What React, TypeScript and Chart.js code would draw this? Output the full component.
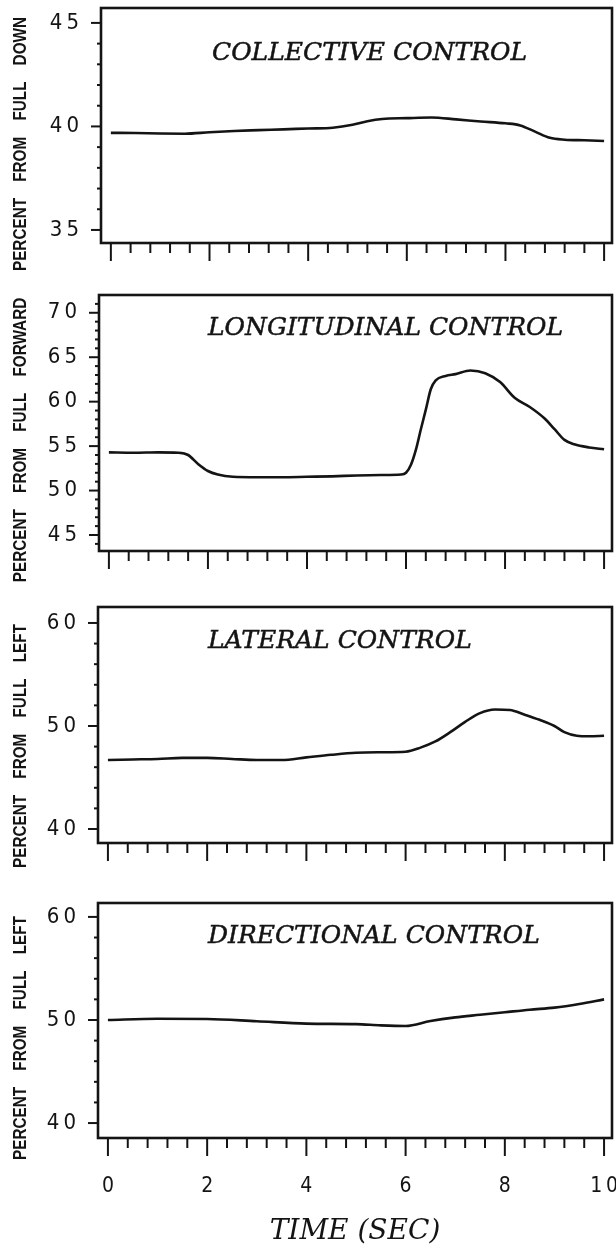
import React, { useEffect, useRef } from "react";
import { Chart, registerables } from "chart.js";

Chart.register(...registerables);

// ---------- data (percent of control travel vs. time) ----------
const timeTickValues = [0, 2, 4, 6, 8, 10];
const timeMinorStep = 0.4;

const collectiveTime = [0, 0.5, 1, 1.5, 2, 2.5, 3, 3.5, 4, 4.5, 4.9, 5.2, 5.5, 6, 6.5, 7, 7.5, 8, 8.3, 8.6, 8.9, 9.2, 9.6, 10];
const collectivePercent = [39.69, 39.68, 39.66, 39.65, 39.72, 39.78, 39.82, 39.86, 39.9, 39.94, 40.08, 40.25, 40.36, 40.4, 40.43, 40.34, 40.24, 40.15, 40.05, 39.75, 39.45, 39.36, 39.33, 39.3];
const collectiveTicks = [35, 40, 45];

const longitudinalTime = [0, 0.5, 1, 1.4, 1.6, 1.8, 2.0, 2.2, 2.5, 3, 3.5, 4, 4.5, 5, 5.5, 5.9, 6.0, 6.1, 6.2, 6.3, 6.4, 6.5, 6.6, 6.8, 7.0, 7.3, 7.6, 7.9, 8.2, 8.5, 8.8, 9.0, 9.2, 9.4, 9.7, 10];
const longitudinalPercent = [54.3, 54.25, 54.3, 54.25, 54.0, 53.0, 52.2, 51.8, 51.55, 51.5, 51.5, 51.55, 51.6, 51.7, 51.75, 51.8, 52.0, 52.9, 54.6, 56.9, 59.1, 61.4, 62.4, 62.9, 63.1, 63.5, 63.2, 62.2, 60.4, 59.4, 58.1, 56.9, 55.7, 55.2, 54.85, 54.65];
const longitudinalTicks = [45, 50, 55, 60, 65, 70];

const lateralTime = [0, 0.5, 1, 1.5, 2, 2.5, 3, 3.5, 4, 4.5, 5, 5.5, 6, 6.3, 6.6, 6.9, 7.2, 7.5, 7.8, 8.1, 8.4, 8.7, 9.0, 9.2, 9.45, 9.7, 10];
const lateralPercent = [46.7, 46.75, 46.8, 46.9, 46.9, 46.8, 46.7, 46.7, 46.95, 47.2, 47.4, 47.45, 47.5, 47.9, 48.5, 49.4, 50.4, 51.25, 51.6, 51.55, 51.1, 50.6, 50.0, 49.4, 49.05, 49.0, 49.05];
const lateralTicks = [40, 50, 60];

const directionalTime = [0, 1, 2, 3, 4, 5, 5.5, 6.0, 6.5, 7, 7.5, 8, 8.5, 9, 9.5, 10];
const directionalPercent = [50.0, 50.12, 50.1, 49.88, 49.65, 49.6, 49.48, 49.42, 49.9, 50.25, 50.5, 50.75, 51.0, 51.2, 51.55, 52.0];
const directionalTicks = [40, 50, 60];

// ---------- styling / layout ----------
const INK = "#141414";
const PAGE_W = 616;
const PAGE_H = 1256;
const TICK_FONT = "'Liberation Sans Narrow', 'DejaVu Sans Condensed', 'Liberation Sans', sans-serif";
const CAPTION_FONT = "'Liberation Sans', Arial, sans-serif";
const SERIF = "'DejaVu Serif', 'Liberation Serif', serif";

type Box = { left: number; right: number; top: number; bottom: number };

type PanelSpec = {
  title: string;
  yWords: string[];
  time: number[];
  values: number[];
  yMin: number;
  yMax: number;
  yTicks: number[];
  yMinorStep: number;
  canvasTop: number;
  canvasHeight: number;
  box: Box;
  titleX: number;
  titleY: number;
  yTitleY: number;
  showTimeLabels: boolean;
};

const panels: PanelSpec[] = [
  {
    title: "COLLECTIVE CONTROL",
    yWords: ["PERCENT", "FROM", "FULL", "DOWN"],
    time: collectiveTime,
    values: collectivePercent,
    yMin: 34.37,
    yMax: 45.72,
    yTicks: collectiveTicks,
    yMinorStep: 1,
    canvasTop: 0,
    canvasHeight: 290,
    box: { left: 101, right: 612, top: 8, bottom: 243 },
    titleX: 212,
    titleY: 60,
    yTitleY: 144,
    showTimeLabels: false,
  },
  {
    title: "LONGITUDINAL CONTROL",
    yWords: ["PERCENT", "FROM", "FULL", "FORWARD"],
    time: longitudinalTime,
    values: longitudinalPercent,
    yMin: 43.2,
    yMax: 72.0,
    yTicks: longitudinalTicks,
    yMinorStep: 1,
    canvasTop: 285,
    canvasHeight: 315,
    box: { left: 99, right: 612, top: 295, bottom: 551 },
    titleX: 208,
    titleY: 335,
    yTitleY: 440,
    showTimeLabels: false,
  },
  {
    title: "LATERAL CONTROL",
    yWords: ["PERCENT", "FROM", "FULL", "LEFT"],
    time: lateralTime,
    values: lateralPercent,
    yMin: 38.64,
    yMax: 61.55,
    yTicks: lateralTicks,
    yMinorStep: 2,
    canvasTop: 597,
    canvasHeight: 293,
    box: { left: 98, right: 612, top: 607, bottom: 843 },
    titleX: 208,
    titleY: 648,
    yTitleY: 746,
    showTimeLabels: false,
  },
  {
    title: "DIRECTIONAL CONTROL",
    yWords: ["PERCENT", "FROM", "FULL", "LEFT"],
    time: directionalTime,
    values: directionalPercent,
    yMin: 38.55,
    yMax: 61.35,
    yTicks: directionalTicks,
    yMinorStep: 2,
    canvasTop: 890,
    canvasHeight: PAGE_H - 890,
    box: { left: 98, right: 612, top: 903, bottom: 1138 },
    titleX: 208,
    titleY: 943,
    yTitleY: 1038,
    showTimeLabels: true,
  },
];

// "45" -> "4 5": digits are typeset with a thin gap between them
const spacedDigits = (v: number | string) => String(v).split("").join("\u2009");

// Frame, tick marks, in-panel title and rotated axis caption
const panelFrame = {
  id: "panelFrame",
  afterDraw(chart: any, _args: any, opts: any) {
    const { ctx, chartArea: a, scales } = chart;
    const x = scales.x;
    const y = scales.y;
    ctx.save();
    ctx.strokeStyle = INK;
    ctx.fillStyle = INK;

    // plot frame
    ctx.lineWidth = 2.6;
    ctx.strokeRect(a.left, a.top, a.right - a.left, a.bottom - a.top);

    // y tick marks: long at labelled values, short otherwise
    ctx.lineWidth = 2;
    const step = opts.yMinorStep;
    const k0 = Math.ceil(y.min / step - 1e-9);
    const k1 = Math.floor(y.max / step + 1e-9);
    for (let k = k0; k <= k1; k++) {
      const v = k * step;
      const py = y.getPixelForValue(v);
      if (py < a.top + 2 || py > a.bottom - 2) continue;
      const labelled = opts.yTicks.some((t: number) => Math.abs(t - v) < 1e-6);
      ctx.beginPath();
      ctx.moveTo(a.left - (labelled ? 10 : 4), py);
      ctx.lineTo(a.left + 1, py);
      ctx.stroke();
    }

    // time tick marks hanging below the frame
    const t0 = timeTickValues[0];
    const tN = timeTickValues[timeTickValues.length - 1];
    const n = Math.round((tN - t0) / timeMinorStep);
    for (let i = 0; i <= n; i++) {
      const t = t0 + i * timeMinorStep;
      const major = timeTickValues.some((m) => Math.abs(m - t) < 1e-6);
      const px = x.getPixelForValue(t);
      ctx.beginPath();
      ctx.moveTo(px, a.bottom);
      ctx.lineTo(px, a.bottom + (major ? 18 : 10));
      ctx.stroke();
    }

    // panel title, slightly emboldened
    ctx.font = `italic 25px ${SERIF}`;
    ctx.textAlign = "left";
    ctx.textBaseline = "alphabetic";
    ctx.lineWidth = 0.5;
    const ty = opts.titleY - opts.canvasTop;
    ctx.fillText(opts.title, opts.titleX, ty);
    ctx.strokeText(opts.title, opts.titleX, ty);

    // rotated axis caption, words spread apart
    ctx.font = `bold 18px ${CAPTION_FONT}`;
    ctx.textBaseline = "middle";
    const words: string[] = opts.yWords;
    const widths = words.map((w) => ctx.measureText(w).width);
    const gap = 19;
    const total = widths.reduce((s, w) => s + w, 0) + gap * (words.length - 1);
    ctx.translate(opts.yTitleX, opts.yTitleY - opts.canvasTop);
    ctx.rotate(-Math.PI / 2);
    ctx.scale(0.85, 1);
    let cx = -total / 2;
    words.forEach((w, i) => {
      ctx.fillText(w, cx, 0);
      cx += widths[i] + gap;
    });
    ctx.restore();
  },
};

function Panel({ spec }: { spec: PanelSpec }) {
  const ref = useRef<HTMLCanvasElement | null>(null);

  useEffect(() => {
    const canvas = ref.current;
    if (!canvas) return;
    const canvasBottom = spec.canvasTop + spec.canvasHeight;
    const chart = new Chart(canvas, {
      type: "line",
      data: {
        datasets: [
          {
            data: spec.time.map((t, i) => ({ x: t, y: spec.values[i] })),
            borderColor: INK,
            borderWidth: 2.6,
            pointRadius: 0,
            fill: false,
            cubicInterpolationMode: "monotone",
          },
        ],
      },
      options: {
        animation: false,
        responsive: false,
        events: [],
        layout: {
          padding: {
            left: 0,
            right: PAGE_W - spec.box.right,
            top: spec.box.top - spec.canvasTop,
            bottom: 0,
          },
        },
        scales: {
          x: {
            type: "linear",
            min: -0.2,
            max: 10.16,
            afterBuildTicks: (s: any) => {
              s.ticks = timeTickValues.map((v) => ({ value: v }));
            },
            afterFit: (s: any) => {
              s.height = canvasBottom - spec.box.bottom;
              s.paddingLeft = 0;
              s.paddingRight = 0;
            },
            grid: { display: false, drawTicks: false },
            border: { display: false },
            ticks: {
              display: spec.showTimeLabels,
              autoSkip: false,
              maxRotation: 0,
              padding: 36,
              color: INK,
              font: { family: TICK_FONT, size: 21 },
              callback: (v: any) => spacedDigits(v),
            },
            title: {
              display: spec.showTimeLabels,
              text: "TIME (SEC)",
              color: INK,
              font: { family: SERIF, style: "italic", size: 28 },
              padding: { top: 0, bottom: 7 },
            },
          },
          y: {
            type: "linear",
            min: spec.yMin,
            max: spec.yMax,
            afterBuildTicks: (s: any) => {
              s.ticks = spec.yTicks.map((v) => ({ value: v }));
            },
            afterFit: (s: any) => {
              s.width = spec.box.left;
              s.paddingTop = 0;
              s.paddingBottom = 0;
            },
            grid: { display: false, drawTicks: false },
            border: { display: false },
            ticks: {
              autoSkip: false,
              padding: 22,
              color: INK,
              font: { family: TICK_FONT, size: 22 },
              callback: (v: any) => spacedDigits(v),
            },
          },
        },
        plugins: {
          legend: { display: false },
          tooltip: { enabled: false },
          panelFrame: {
            title: spec.title,
            titleX: spec.titleX,
            titleY: spec.titleY,
            canvasTop: spec.canvasTop,
            yWords: spec.yWords,
            yTitleX: 21,
            yTitleY: spec.yTitleY,
            yTicks: spec.yTicks,
            yMinorStep: spec.yMinorStep,
          },
        } as any,
      },
      plugins: [panelFrame],
    } as any);
    return () => chart.destroy();
  }, [spec]);

  return (
    <canvas
      ref={ref}
      width={PAGE_W}
      height={spec.canvasHeight}
      style={{
        position: "absolute",
        left: 0,
        top: spec.canvasTop,
        width: PAGE_W,
        height: spec.canvasHeight,
        display: "block",
      }}
    />
  );
}

export default function App() {
  return (
    <div
      style={{
        position: "absolute",
        left: 0,
        top: 0,
        width: PAGE_W,
        height: PAGE_H,
        background: "#fff",
        overflow: "hidden",
      }}
    >
      {panels.map((p) => (
        <Panel key={p.title} spec={p} />
      ))}
    </div>
  );
}
